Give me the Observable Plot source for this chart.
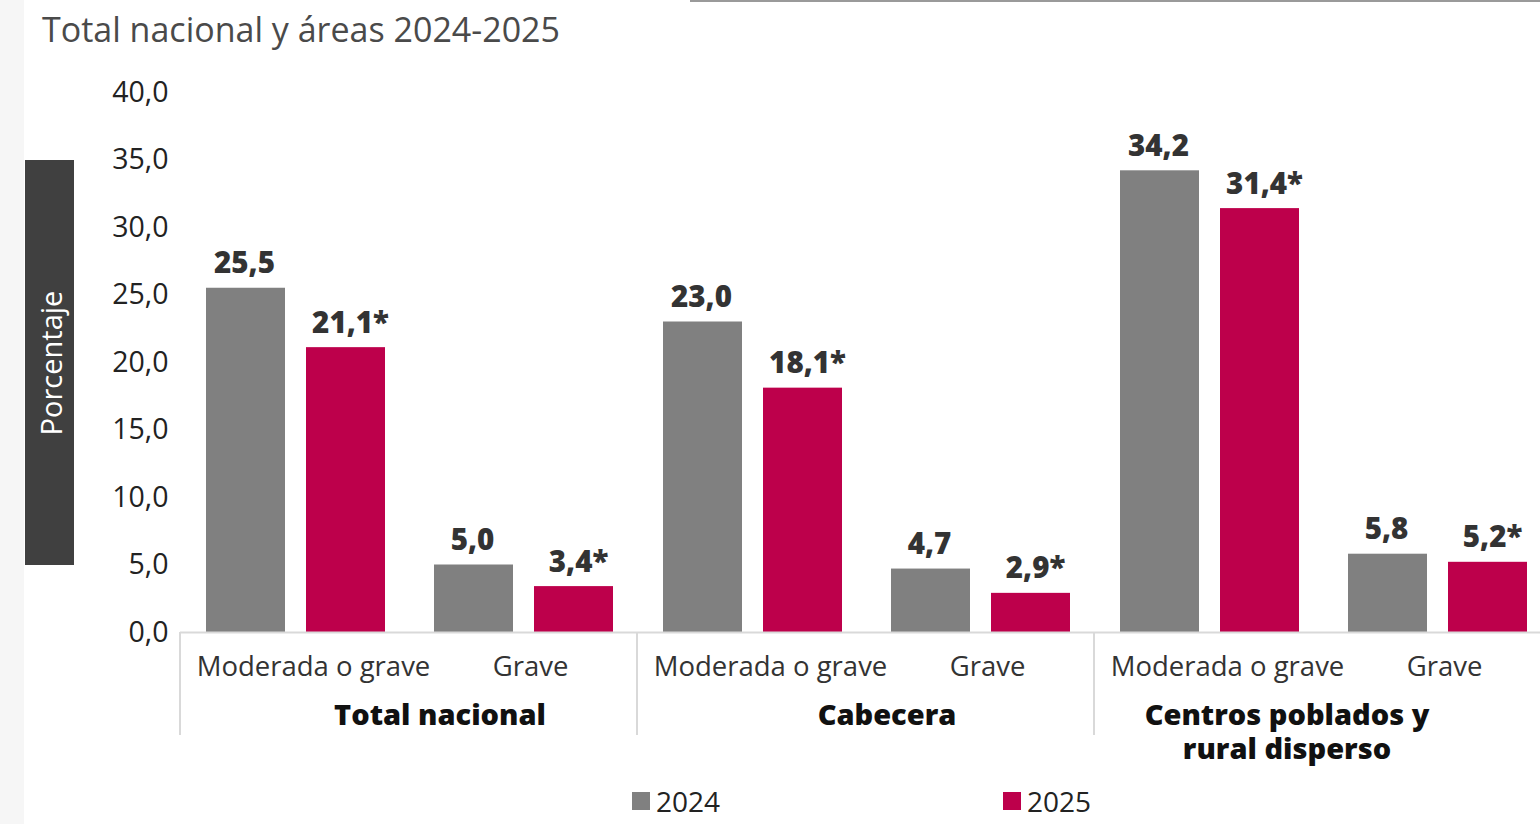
<!DOCTYPE html>
<html>
<head>
<meta charset="utf-8">
<script src="https://cdn.jsdelivr.net/npm/d3@7"></script>
<script src="https://cdn.jsdelivr.net/npm/@observablehq/plot@0.6"></script>
<style>
  html, body { margin: 0; padding: 0; background: #fff; overflow: hidden; }
  #page { position: relative; width: 1540px; height: 824px; overflow: hidden; font-family: "Open Sans", sans-serif; }
  #strip { position: absolute; left: 0; top: 0; width: 24px; height: 824px; background: #f6f6f6; }
  #topline { position: absolute; left: 690px; top: 0; width: 850px; height: 2px; background: #9a9a9a; }
  #title { position: absolute; left: 42px; top: 6px; font-size: 34px; color: #4a4a4a; white-space: nowrap; }
  #ylab { position: absolute; left: 25px; top: 160px; width: 49px; height: 405px; background: #404040; }
  #ylab span { position: absolute; left: 50%; top: 50%; transform: translate(-50%, -50%) rotate(-90deg); color: #fff; font-size: 29px; white-space: nowrap; }
  #chart { position: absolute; left: 0; top: 0; width: 1551px; }
  #chart svg { max-width: none !important; }
  #legend { position: absolute; top: 782px; left: 0; width: 1540px; height: 36px; font-size: 28px; color: #222; }
  .lg { position: absolute; display: flex; align-items: center; }
  .sw { width: 18px; height: 18px; margin-right: 6px; }
</style>
</head>
<body>
<div id="page">
  <div id="strip"></div>
  <div id="topline"></div>
  <div id="title"></div>
  <div id="ylab"><span></span></div>
  <div id="chart"></div>
  <div id="legend"></div>
</div>
<script>
const titleText = "Total nacional y áreas 2024-2025";
const yLabel = "Porcentaje";
const areas = ["Total nacional", "Cabecera", "Centros poblados y rural disperso"];
const areaLabels = ["Total nacional", "Cabecera", "Centros poblados y\nrural disperso"];
const severities = ["Moderada o grave", "Grave"];
const years = ["2024", "2025"];
const colors = ["#808080", "#bd004b"];
// values ordered area × severity
const values2024 = [25.5, 5.0, 23.0, 4.7, 34.2, 5.8];
const values2025 = [21.1, 3.4, 18.1, 2.9, 31.4, 5.2];
const marks2025 = ["*", "*", "*", "*", "*", "*"];
const yTicks = [0, 5, 10, 15, 20, 25, 30, 35, 40];

const fmt = d3.format(".1f");
const fmtEs = v => fmt(v).replace(".", ",");

function rows(values, year, suffixes) {
  const out = [];
  areas.forEach((a, i) => severities.forEach((s, j) => {
    const k = i * severities.length + j;
    out.push({area: a, severity: s, year, value: values[k], label: fmtEs(values[k]) + (suffixes ? suffixes[k] : "")});
  }));
  return out;
}
const d2024 = rows(values2024, years[0], null);
const d2025 = rows(values2025, years[1], marks2025);

document.getElementById("title").textContent = titleText;
document.querySelector("#ylab span").textContent = yLabel;

const sevShift = [18, 7];
const areaShift = [31, 21, -36];

const plot = Plot.plot({
  width: 1551,
  height: 824,
  marginTop: 92,
  marginBottom: 192,
  marginLeft: 180,
  marginRight: 0,
  style: {fontFamily: "Open Sans, sans-serif", background: "transparent", overflow: "visible", maxWidth: "none"},
  fx: {domain: areas, padding: 0},
  x: {domain: severities, padding: 0},
  y: {domain: [0, 40]},
  marks: [
    Plot.axisY({ticks: yTicks, tickSize: 0, tickPadding: 12, tickFormat: fmtEs, fontSize: 28.5, fill: "#222", label: null}),
    ...severities.map((s, i) => Plot.axisX({anchor: "bottom", ticks: [s], tickSize: 0, tickPadding: 24, fontSize: 27.5, fill: "#333", label: null, dx: sevShift[i], lineAnchor: "top"})),
    ...areas.map((a, i) => Plot.axisFx({anchor: "bottom", ticks: [a], tickSize: 0, tickPadding: 68, fontSize: 29, fontWeight: 800, fill: "#111", label: null, lineAnchor: "top", lineHeight: 1.17, dx: areaShift[i],
      tickFormat: d => areaLabels[areas.indexOf(d)]})),
    Plot.barY(d2024, {fx: "area", x: "severity", y: "value", fill: colors[0], insetLeft: 25, insetRight: 124}),
    Plot.barY(d2025, {fx: "area", x: "severity", y: "value", fill: colors[1], insetLeft: 125, insetRight: 24}),
    Plot.ruleY([0], {stroke: "#d9d9d9", strokeWidth: 2}),
    Plot.text(d2024, {fx: "area", x: "severity", y: "value", text: "label", dx: -51, dy: -15, lineAnchor: "bottom", fontSize: 29.5, fontWeight: 800, fill: "#333"}),
    Plot.text(d2025, {fx: "area", x: "severity", y: "value", text: "label", dx: 55, dy: -15, lineAnchor: "bottom", fontSize: 29.5, fontWeight: 800, fill: "#333"})
  ]
});
document.getElementById("chart").appendChild(plot);

// group separators drawn from the library's fx and y scales
const fxs = plot.scale("fx");
const ys = plot.scale("y");
const svg = d3.select(plot);
areas.forEach(a => {
  const x0 = fxs.apply(a) + 180 - fxs.apply(areas[0]);
  svg.append("line")
    .attr("x1", x0).attr("x2", x0)
    .attr("y1", ys.apply(0)).attr("y2", ys.apply(0) + 103)
    .attr("stroke", "#d9d9d9").attr("stroke-width", 2);
});

// legend
const lg = document.getElementById("legend");
const legendX = [632, 1003];
years.forEach((y, i) => {
  const el = document.createElement("div");
  el.className = "lg";
  el.style.left = legendX[i] + "px";
  el.innerHTML = `<div class="sw" style="background:${colors[i]}"></div><span>${y}</span>`;
  lg.appendChild(el);
});
</script>
</body>
</html>
